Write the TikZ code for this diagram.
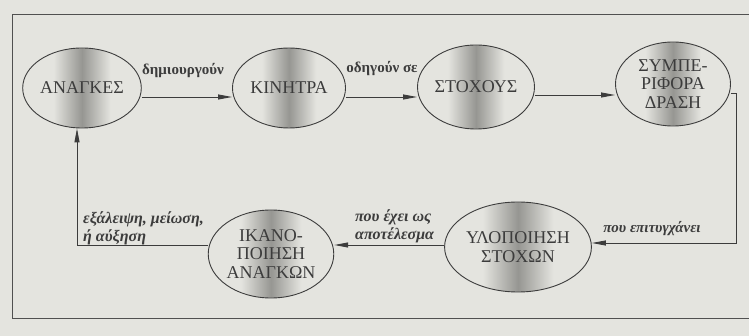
\documentclass[tikz,border=0pt]{standalone}
\usepackage{fontspec}
\setmainfont{Liberation Serif}
\usetikzlibrary{shapes.geometric,arrows.meta}
\definecolor{paper}{RGB}{228,228,223}
\definecolor{ink}{RGB}{60,60,60}
\definecolor{band}{RGB}{150,150,146}
\pgfdeclarehorizontalshading{bandshade}{100bp}{color(0bp)=(paper); color(25bp)=(paper); color(38bp)=(paper); color(50bp)=(band); color(62bp)=(paper); color(75bp)=(paper); color(100bp)=(paper)}
\tikzset{
  bubble/.style={ellipse, draw=ink, line width=0.9pt, inner sep=0pt, align=center,
    shading=bandshade,
    text=ink, font=\fontsize{18}{18.5}\selectfont},
  conn/.style={draw=ink, line width=0.9pt, -{Triangle[length=14pt,width=5pt]}},
  toplabel/.style={text=ink, font=\fontsize{15}{17}\selectfont\bfseries, inner sep=0pt},
  botlabel/.style={text=ink, font=\fontsize{16}{17.5}\selectfont\bfseries\itshape, inner sep=0pt, align=left, anchor=west},
}
\begin{document}
\begin{tikzpicture}[x=1pt,y=-1pt]
\fill[paper] (0,0) rectangle (749,336);
\useasboundingbox (0,0) rectangle (749,336);
% frame
\draw[ink!90, line width=1pt] (749,15) -- (12,15) -- (12,319) -- (749,319);
% nodes
\node[bubble, minimum width=110pt, minimum height=80pt] (a) at (82,88) {ΑΝΑΓΚΕΣ};
\node[bubble, minimum width=113pt, minimum height=80pt] (k) at (289,88) {ΚΙΝΗΤΡΑ};
\node[bubble, minimum width=110pt, minimum height=84pt] (s) at (476,87) {ΣΤΟΧΟΥΣ};
\node[bubble, minimum width=115pt, minimum height=84pt] (p) at (673,84) {ΣΥΜΠΕ-\\ΡΙΦΟΡΑ\\ΔΡΑΣΗ};
\node[bubble, minimum width=118pt, minimum height=90pt] (y) at (518,247) {ΥΛΟΠΟΙΗΣΗ\\ΣΤΟΧΩΝ};
\node[bubble, minimum width=107pt, minimum height=88pt] (i) at (271,254) {ΙΚΑΝΟ-\\ΠΟΙΗΣΗ\\ΑΝΑΓΚΩΝ};
% connectors
\draw[conn] ([yshift=-9pt]a.east) -- ([yshift=-9pt]k.west);
\draw[conn] ([yshift=-9pt]k.east) -- ([yshift=-10pt]s.west);
\draw[conn] ([yshift=-8pt]s.east) -- ([yshift=-11pt]p.west);
\coordinate (r1) at (736,93);
\coordinate (r2) at (736,243);
\draw[conn] ([yshift=-9pt]p.east) -- (r1) -- (r2) -- ([yshift=4pt]y.east);
\draw[conn] ([yshift=2pt]y.west) -- ([yshift=9pt]i.east);
\coordinate (l1) at (77,245);
\draw[conn] ([yshift=9pt]i.west) -- (l1) -- (a.south -| l1);
% labels
\node[toplabel] (t1) at (183,71) {δημιουργούν};
\node[toplabel] (t2) at (382,69) {οδηγούν σε};
\node[toplabel, font=\fontsize{15}{17}\selectfont\bfseries\itshape] (t3) at (652,229) {που επιτυγχάνει};
\node[botlabel] (t4) at (355,226.5) {που έχει ως\\αποτέλεσμα};
\node[botlabel] (t5) at (83,228.5) {εξάλειψη, μείωση,\\ή αύξηση};
\end{tikzpicture}
\end{document}
